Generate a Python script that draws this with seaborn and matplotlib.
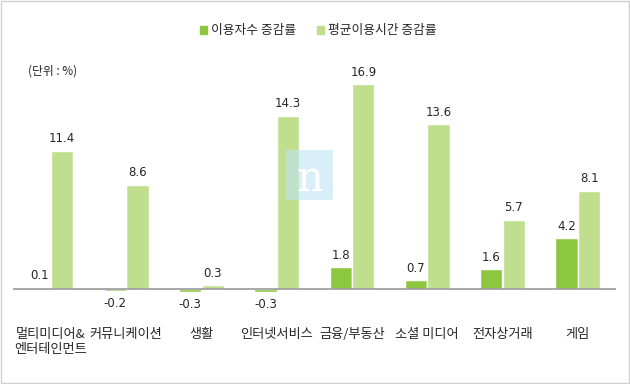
import pandas as pd
import matplotlib.pyplot as plt
import matplotlib.patches as mpatches
import seaborn as sns

# data
categories = ["멀티미디어&\n엔터테인먼트", "커뮤니케이션", "생활", "인터넷서비스",
              "금융/부동산", "소셜 미디어", "전자상거래", "게임"]
users_change = [0.1, -0.2, -0.3, -0.3, 1.8, 0.7, 1.6, 4.2]
time_change = [11.4, 8.6, 0.3, 14.3, 16.9, 13.6, 5.7, 8.1]
series_names = ["이용자수 증감률", "평균이용시간 증감률"]
colors = ["#8DC63F", "#BFDF8F"]

df = pd.DataFrame({
    "category": categories * 2,
    "value": users_change + time_change,
    "series": [series_names[0]] * len(categories) + [series_names[1]] * len(categories),
})

sns.set_theme(style="white")
plt.rcParams["font.family"] = ["Noto Sans CJK KR", "DejaVu Sans"]

fig = plt.figure(figsize=(6.3, 3.84), dpi=100)
ax = fig.add_axes([0.021, 0.185, 0.956, 0.630])

sns.barplot(data=df, x="category", y="value", hue="series", palette=colors,
            saturation=1, width=0.6, gap=0.01, ax=ax, legend=False)

ax.set_ylim(-2, 18)
ax.set_xlim(-0.5, len(categories) - 0.5)
ax.axhline(0, color="#999999", lw=1.2)
for s in ax.spines.values():
    s.set_visible(False)
ax.set_yticks([])
ax.set_xlabel("")
ax.set_ylabel("")
ax.tick_params(axis="x", length=0, pad=11, labelsize=9.5)

# value labels
for cont in ax.containers:
    for bar in cont:
        h = bar.get_height()
        x = bar.get_x() + bar.get_width() / 2
        if h >= 0:
            ax.text(x, h + 0.45, f"{h:.1f}", ha="center", va="bottom", fontsize=8.5,
                    family=["DejaVu Sans"])
        else:
            ax.text(x, h - 0.5, f"{h:.1f}", ha="center", va="top", fontsize=8.5,
                    family=["DejaVu Sans"])

# legend
handles = [mpatches.Patch(color=c, label=n) for c, n in zip(colors, series_names)]
fig.legend(handles=handles, loc="center", bbox_to_anchor=(0.505, 0.92), ncol=2,
           frameon=False, fontsize=9.2, handlelength=0.6, handleheight=0.6,
           handletextpad=0.3, columnspacing=1.6)

fig.text(0.045, 0.815, "(단위 : %)", fontsize=8.5, va="center")

# watermark
fig.patches.append(mpatches.Rectangle((0.454, 0.479), 0.075, 0.130, transform=fig.transFigure,
                                      facecolor="#BFE3F5", alpha=0.6, lw=0))
fig.text(0.492, 0.535, "n", fontsize=30, color="white", ha="center", va="center",
         family=["DejaVu Serif"])

# figure border
fig.patches.append(mpatches.Rectangle((0.001, 0.002), 0.997, 0.995, transform=fig.transFigure,
                                      fill=False, edgecolor="#D0D0D0", lw=1))

fig.savefig("out.png", dpi=100)
